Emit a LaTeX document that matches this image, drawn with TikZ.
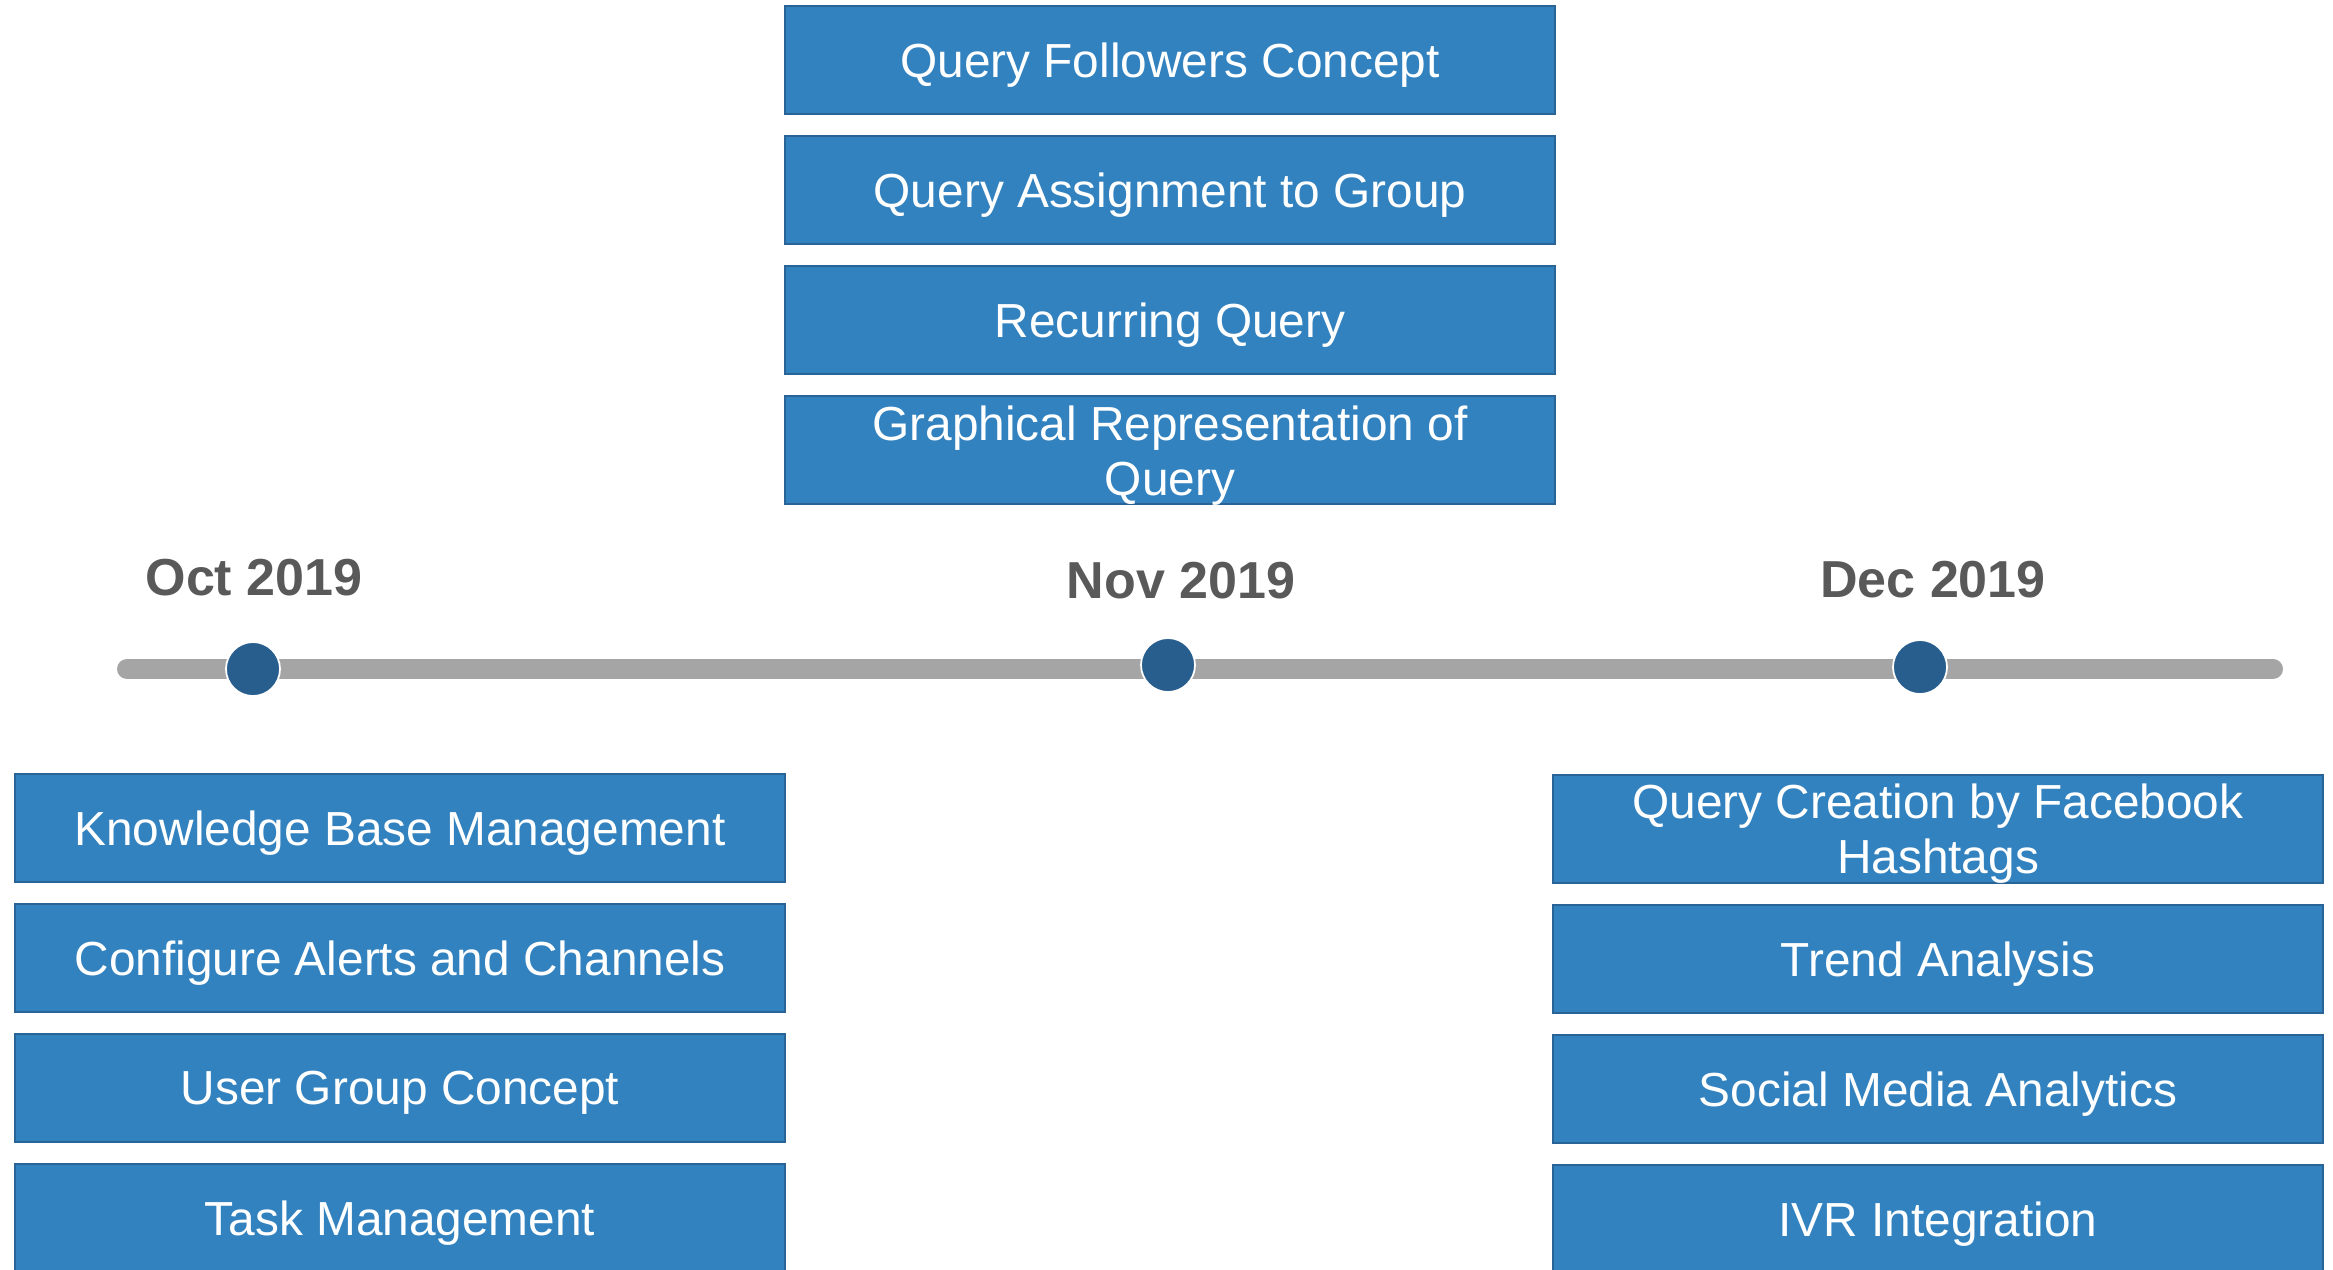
\documentclass[tikz,border=0pt]{standalone}
\usepackage{fontspec}
\setmainfont{Liberation Sans}
\usetikzlibrary{positioning}
\definecolor{boxblue}{HTML}{3282BF}
\definecolor{boxedge}{HTML}{2A6496}
\definecolor{dotblue}{HTML}{285E8E}
\definecolor{linegray}{HTML}{A5A5A5}
\definecolor{labelgray}{HTML}{595959}
\tikzset{
	item/.style={draw=boxedge, fill=boxblue, line width=0.6pt, text=white, minimum width=7.7cm, minimum height=1.08cm, inner sep=0pt, align=center, text depth=0pt, font=\fontsize{13.6}{15.7}\selectfont},
	milestone/.style={circle, fill=dotblue, draw=white, line width=0.5pt, minimum size=0.54cm, inner sep=0pt},
	month/.style={anchor=base, text=labelgray, font=\bfseries\fontsize{14.8}{17}\selectfont}
}
\begin{document}
\begin{tikzpicture}
			%%%%% START %%%%%
			\useasboundingbox (0, 0) rectangle (23.33, -12.69);
			\clip (0, 0) rectangle (23.33, -12.69);
			
			% Nov column
			\node[item] (qfollow) at (11.70, -0.60) {Query Followers Concept};
			\node[item, below=0.2cm of qfollow] (qassign) {Query Assignment to Group};
			\node[item, below=0.2cm of qassign] (recurring) {Recurring Query};
			\node[item, below=0.2cm of recurring] (graphical) {Graphical Representation of\\Query};
			
			% timeline
			\coordinate (tlstart) at (1.27, -6.69);
			\coordinate (tlend) at (22.73, -6.69);
			\draw[line width=2mm, color=linegray, line cap=round] (tlstart) -- (tlend);
			
			\node[milestone] (oct) at (2.53, -6.69) {};
			\node[milestone] (nov) at (11.68, -6.65) {};
			\node[milestone] (dec) at (19.20, -6.67) {};
			
			\node[month] (octlabel) at (2.54, -5.95) {Oct 2019};
			\node[month] (novlabel) at (11.81, -5.98) {Nov 2019};
			\node[month] (declabel) at (19.33, -5.97) {Dec 2019};
			
			% Oct column
			\node[item] (knowledge) at (4.00, -8.28) {Knowledge Base Management};
			\node[item, below=0.2cm of knowledge] (alerts) {Configure Alerts and Channels};
			\node[item, below=0.2cm of alerts] (usergroup) {User Group Concept};
			\node[item, below=0.2cm of usergroup] (task) {Task Management};
			
			% Dec column
			\node[item] (facebook) at (19.38, -8.29) {Query Creation by Facebook\\Hashtags};
			\node[item, below=0.2cm of facebook] (trend) {Trend Analysis};
			\node[item, below=0.2cm of trend] (social) {Social Media Analytics};
			\node[item, below=0.2cm of social] (ivr) {IVR Integration};
			
			%%%%% END %%%%%
\end{tikzpicture}
\end{document}
